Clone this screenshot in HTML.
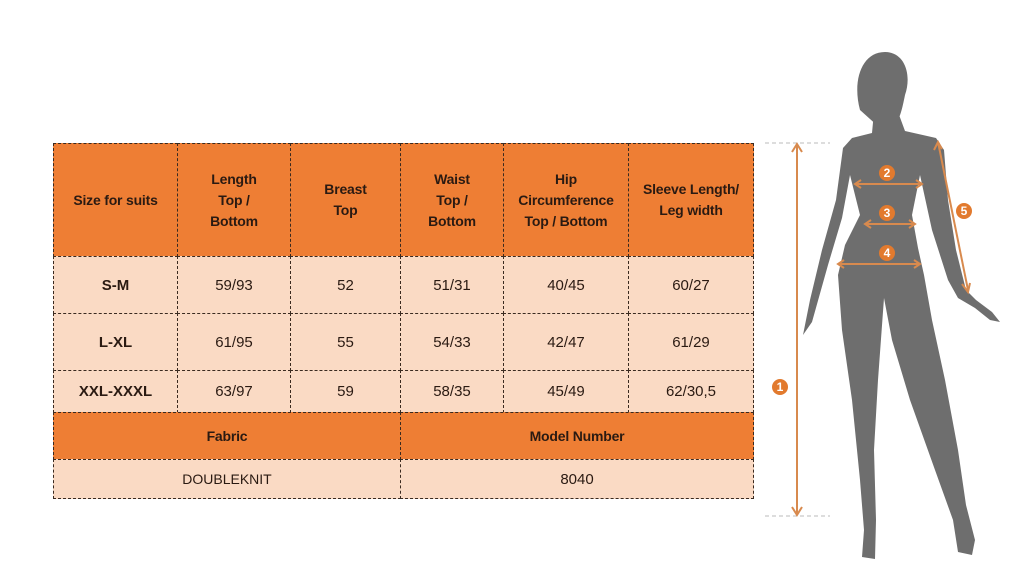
<!DOCTYPE html>
<html><head><style>
body{margin:0;width:1024px;height:583px;background:#fff;position:relative;overflow:hidden;font-family:"Liberation Sans",sans-serif}
.c{position:absolute;box-sizing:border-box;border:1px dashed #3a2a20;display:flex;align-items:center;justify-content:center;text-align:center;color:#2a1a12}
.h{background:#EE7E34;font-weight:bold;font-size:14px;line-height:21px;letter-spacing:-0.2px}
.d{background:#FADAC4;font-size:15px}
.b{font-weight:bold}
</style></head><body>
<div id="t"></div>
<script>
var xs=[53,177,290,400,503,628,753],ys=[143,256,313,370,412,459,498];
var rows=[["Size for suits","Length<br>Top /<br>Bottom","Breast<br>Top","Waist<br>Top /<br>Bottom","Hip<br>Circumference<br>Top / Bottom","Sleeve Length/<br>Leg width"],
["S-M","59/93","52","51/31","40/45","60/27"],["L-XL","61/95","55","54/33","42/47","61/29"],["XXL-XXXL","63/97","59","58/35","45/49","62/30,5"]];
var h="";
for(var r=0;r<4;r++)for(var c=0;c<6;c++){
h+='<div class="c '+(r==0?'h':'d')+(c==0&&r>0?' b':'')+'" style="left:'+xs[c]+'px;top:'+ys[r]+'px;width:'+(xs[c+1]-xs[c]+1)+'px;height:'+(ys[r+1]-ys[r]+1)+'px">'+rows[r][c]+'</div>';}
h+='<div class="c h" style="left:53px;top:412px;width:348px;height:48px">Fabric</div>';
h+='<div class="c h" style="left:400px;top:412px;width:354px;height:48px">Model Number</div>';
h+='<div class="c d" style="left:53px;top:459px;width:348px;height:40px;font-size:14px">DOUBLEKNIT</div>';
h+='<div class="c d" style="left:400px;top:459px;width:354px;height:40px">8040</div>';
document.getElementById("t").innerHTML=h;
</script>
<svg style="position:absolute;left:0;top:0" width="1024" height="583">
<g fill="#6e6e6e">
<path d="M860,110 C852,80 862,52 885,52 C905,52 912,75 905,95 C902,110 900,118 895,125 L880,128 Z"/>
<path d="M874,112 L872,133 L852,138 L843,148 L836,200 L822,250 L810,300 L803,335 L812,322 L828,265 L842,218 L850,175 L860,215 L845,245 L838,275 L842,330 L852,400 L860,480 L864,530 L862,557 L875,559 L876,520 L874,450 L878,380 L884,298 L892,340 L910,400 L935,470 L953,520 L958,552 L972,555 L975,540 L966,505 L958,450 L945,380 L932,320 L924,275 L918,248 L912,215 L920,175 L932,230 L948,280 L958,298 L975,308 L990,320 L1000,322 L992,312 L976,300 L966,290 L956,250 L948,200 L944,150 L936,138 L905,131 L898,112 Z"/>
</g>
<g stroke="#D88A4E" stroke-width="2" fill="none">
<line x1="765" y1="143" x2="830" y2="143" stroke="#bbb" stroke-dasharray="4,3" stroke-width="1"/>
<line x1="765" y1="516" x2="830" y2="516" stroke="#bbb" stroke-dasharray="4,3" stroke-width="1"/>
<line x1="797" y1="145" x2="797" y2="514"/><path d="M792,152 L797,144 L802,152 M792,507 L797,515 L802,507"/>
<line x1="855" y1="184" x2="922" y2="184"/><path d="M861,180 L855,184 L861,188 M916,180 L922,184 L916,188"/>
<line x1="865" y1="224" x2="915" y2="224"/><path d="M871,220 L865,224 L871,228 M909,220 L915,224 L909,228"/>
<line x1="838" y1="264" x2="920" y2="264"/><path d="M844,260 L838,264 L844,268 M914,260 L920,264 L914,268"/>
<line x1="938" y1="142" x2="968" y2="290"/><path d="M934,150 L938,142 L942,149 M962,284 L968,292 L970,283"/>
</g>
<g fill="#E27A2E"><circle cx="780" cy="387" r="8"/><circle cx="887" cy="173" r="8"/><circle cx="887" cy="213" r="8"/><circle cx="887" cy="253" r="8"/><circle cx="964" cy="211" r="8"/></g>
<g fill="#fff" font-size="12" font-weight="bold" text-anchor="middle" font-family="Liberation Sans,sans-serif">
<text x="780" y="391">1</text><text x="887" y="177">2</text><text x="887" y="217">3</text><text x="887" y="257">4</text><text x="964" y="215">5</text></g>
</svg>
</body></html>
